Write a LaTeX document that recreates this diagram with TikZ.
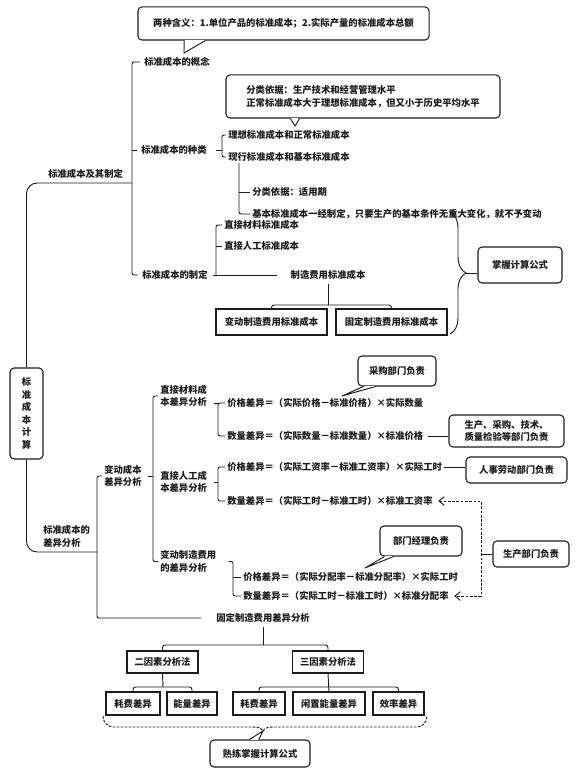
\documentclass[tikz,border=0pt]{standalone}
\usepackage{fontspec}
\setmainfont{Noto Sans CJK SC}
\usepackage{tikz}
\usetikzlibrary{arrows.meta,decorations.pathreplacing}
\definecolor{Ink}{HTML}{1C1C1C}
\tikzset{
  >={Straight Barb[length=4pt,width=6.5pt]},
  lab/.style={anchor=west,inner sep=0pt,align=left,text=Ink,font=\fontsize{7}{9.4}\selectfont\bfseries},
  box/.style={draw=Ink,line width=.8pt,inner sep=0pt,align=center,fill=white,text=Ink,font=\fontsize{7}{9.4}\selectfont\bfseries},
  rbox/.style={box,rounded corners=3pt},
  br/.style={draw=Ink,line width=.7pt,rounded corners=1.5pt},
  trunk/.style={br,rounded corners=8pt},
  lnk/.style={draw=Ink,line width=.7pt},
  duty/.style={lnk,dash pattern=on 2pt off 1.2pt,<->},
  tipw/.style={draw=Ink,line width=.7pt,fill=white},
  gap/.style={draw=white,line width=1.4pt},
  dbrace/.style={lnk,dash pattern=on 2pt off 1pt}
}

\begin{document}
\begin{tikzpicture}[x=0.75pt,y=-0.75pt]
  \fill[white] (0,0) rectangle (580,777);
  \useasboundingbox (0,0) rectangle (580,777);

  % standard cost and how it is set
  \node[lab] (jqzd) at (48,174) {标准成本及其制定};
  \node[lab] (gn) at (144,62) {标准成本的概念};
  \node[lab] (zl) at (141,150) {标准成本的种类};
  \node[lab] (zd) at (142,275) {标准成本的制定};
  \node[lab] (lx) at (228,135) {理想标准成本和正常标准成本};
  \node[lab] (xx) at (228,157) {现行标准成本和基本标准成本};
  \node[lab] (syq) at (252,192) {分类依据：适用期};
  \node[lab] (jb) at (252,214) {基本标准成本一经制定，只要生产的基本条件无重大变化，就不予变动};
  \node[lab] (cz) at (224,225) {直接材料标准成本};
  \node[lab] (rg) at (224,246) {直接人工标准成本};
  \node[lab,anchor=center] (zzfy) at (328,275) {制造费用标准成本};
  \node[box,minimum width=83.25pt,minimum height=19.5pt] (bdzz) at (271.5,322) {变动制造费用标准成本};
  \node[box,minimum width=83.25pt,minimum height=19.5pt] (gdzz) at (391.5,322) {固定制造费用标准成本};
  \node[rbox,minimum width=63pt,minimum height=27pt] (zwgs) at (520,265) {掌握计算公式};
  \node[rbox,minimum width=218.3pt,minimum height=24.8pt] (hy) at (283.5,23.5) {两种含义：1.单位产品的标准成本；2.实际产量的标准成本总额};
  \node[rbox,align=left,minimum width=205.5pt,minimum height=32.3pt] (fl) at (363,96.5) {分类依据：生产技术和经营管理水平\\正常标准成本大于理想标准成本，但又小于历史平均水平};

  \node[rbox,minimum width=24.75pt,minimum height=68.25pt] (jsbox) at (26.5,413.5) {标\\准\\成\\本\\计\\算};

  % variance analysis
  \node[lab] (cyfx) at (43,536.5) {标准成本的\\差异分析};
  \node[lab] (bdcb) at (104,476) {变动成本\\差异分析};
  \node[lab] (clcb) at (160,396) {直接材料成\\本差异分析};
  \node[lab] (rgcb) at (160,482) {直接人工成\\本差异分析};
  \node[lab] (zzfyfx) at (160,561.5) {变动制造费用\\的差异分析};
  \node[lab] (cljg) at (227,403) {价格差异＝（实际价格－标准价格）×实际数量};
  \node[lab] (clsl) at (227,436) {数量差异＝（实际数量－标准数量）×标准价格};
  \node[lab] (rgjg) at (227,467) {价格差异＝（实际工资率－标准工资率）×实际工时};
  \node[lab] (rgsl) at (227,501) {数量差异＝（实际工时－标准工时）×标准工资率};
  \node[lab] (zzjg) at (243,577) {价格差异＝（实际分配率－标准分配率）×实际工时};
  \node[lab] (zzsl) at (243,596) {数量差异＝（实际工时－标准工时）×标准分配率};
  \node[rbox,minimum width=58.5pt,minimum height=22.5pt] (cg) at (397,371) {采购部门负责};
  \node[rbox,minimum width=86.25pt,minimum height=24pt] (sc) at (506.5,431) {生产、采购、技术、\\质量检验等部门负责};
  \node[rbox,minimum width=75.75pt,minimum height=19.5pt] (rs) at (516.5,470) {人事劳动部门负责};
  \node[rbox,minimum width=61.5pt,minimum height=22.5pt] (jl) at (421,541) {部门经理负责};
  \node[rbox,minimum width=57pt,minimum height=19.5pt] (scbm) at (531,554) {生产部门负责};

  \node[lab,anchor=center] (gdfx) at (263,618) {固定制造费用差异分析};
  \node[box,minimum width=53.25pt,minimum height=16.5pt] (ey) at (162.5,662) {二因素分析法};
  \node[box,minimum width=53.25pt,minimum height=16.5pt] (sy) at (328,662) {三因素分析法};
  \node[box,minimum width=40.5pt,minimum height=17.25pt] (hf1) at (133,703.5) {耗费差异};
  \node[box,minimum width=37.5pt,minimum height=17.25pt] (nl) at (192,703.5) {能量差异};
  \node[box,minimum width=39pt,minimum height=17.25pt] (hf2) at (259,703.5) {耗费差异};
  \node[box,minimum width=54pt,minimum height=17.25pt] (xz) at (329,703.5) {闲置能量差异};
  \node[box,minimum width=38.25pt,minimum height=17.25pt] (xl) at (398.5,703.5) {效率差异};
  \node[rbox,minimum width=75pt,minimum height=20.25pt] (sl) at (260,753.5) {熟练掌握计算公式};

  % spines of the brackets
  \coordinate (k1) at (132,183);
  \coordinate (k2) at (97,552);
  \coordinate (s1) at (132,0);
  \coordinate (s2) at (222,0);
  \coordinate (s3) at (239,163);
  \coordinate (s4) at (216,0);
  \coordinate (s5) at (97,0);
  \coordinate (s6) at (153,0);
  \coordinate (s7) at (218,0);
  \coordinate (s8) at (233,0);
  \coordinate (s9) at (481,0);
  \coordinate (b1) at (328,305);
  \coordinate (b2) at (263,645);
  \coordinate (b3) at (163,687);
  \coordinate (b4) at (328,687);
  \coordinate (bt) at (466,273);
  \coordinate (t1) at (184,53);
  \coordinate (t2) at (295,126);
  \coordinate (t3) at (342,396);
  \coordinate (t4) at (365,568);
  \coordinate (t5) at (263,731);

  \draw[trunk] (jsbox.north) |- (k1);
  \draw[trunk] (jsbox.south) |- (k2);

  \draw[br] ([xshift=-3pt]gn.west) -- (gn.west -| s1) -- (zd.west -| s1) -- ([xshift=-3pt]zd.west);
  \draw[br] (zl.west -| s1) -- ([xshift=-3pt]zl.west);
  \draw[br] ([xshift=-1.5pt]lx.west) -- (lx.west -| s2) -- (xx.west -| s2) -- ([xshift=-1.5pt]xx.west);
  \draw[br] (zl.east -| s2) -- ++(-6,0);
  \draw[br] (s3) -- (jb.west -| s3) -- ([xshift=-1.5pt]jb.west);
  \draw[br] (syq.west -| s3) -- ([xshift=-1.5pt]syq.west);
  \draw[br] ([xshift=-1.5pt]cz.west) -- (cz.west -| s4) -- (zzfy.west -| s4);
  \draw[br] (rg.west -| s4) -- ([xshift=-1.5pt]rg.west);
  \draw[lnk] ([xshift=4pt]zd.east) -- ([xshift=-10pt]zzfy.west);
  \draw[lnk] ([yshift=-3pt]zzfy.south) -- (b1);
  \draw[br,rounded corners=2pt] (bdzz.north) |- (b1) -| (gdzz.north);
  \draw[lnk,decorate,decoration={brace,amplitude=12pt}] (450,212) -- (450,334);
  \draw[lnk] (bt) -- (bt -| zwgs.west);

  \draw[tipw] ([xshift=35pt]hy.south west) -- (t1) -- ([xshift=51pt]hy.south west);
  \draw[gap] ([xshift=36pt]hy.south west) -- ([xshift=50pt]hy.south west);
  \draw[tipw] ([xshift=48.75pt]fl.south west) -- (t2) -- ([xshift=55.5pt]fl.south west);
  \draw[gap] ([xshift=49.5pt]fl.south west) -- ([xshift=54.75pt]fl.south west);

  \draw[br] ([xshift=-1.5pt]bdcb.west) -- (bdcb.west -| s5) -- (gdfx.west -| s5) -- ([xshift=-11pt]gdfx.west);
  \draw[br] ([xshift=-1.5pt]clcb.west) -- (clcb.west -| s6) -- (zzfyfx.west -| s6) -- ([xshift=-1.5pt]zzfyfx.west);
  \draw[br] (bdcb.east -| s6) -- ++(-5,0);
  \draw[br] ([xshift=-1.5pt]cljg.west) -- (cljg.west -| s7) -- (clsl.west -| s7) -- ([xshift=-1.5pt]clsl.west);
  \draw[br] (cljg.west -| s7) -- ++(-4,0);
  \draw[br] ([xshift=-1.5pt]rgjg.west) -- (rgjg.west -| s7) -- (rgsl.west -| s7) -- ([xshift=-1.5pt]rgsl.west);
  \draw[br] (rgcb.east -| s7) -- ++(-4,0);
  \draw[br] ([xshift=9pt]zzfyfx.east) -- (zzfyfx.east -| s8) -- (zzsl.west -| s8) -- ([xshift=-1.5pt]zzsl.west);
  \draw[br] (zzjg.west -| s8) -- ([xshift=-1.5pt]zzjg.west);

  \draw[lnk] ([xshift=3pt]clsl.east) -- (clsl.east -| sc.west);
  \draw[lnk] ([xshift=1pt]rgjg.east) -- (rgjg.east -| rs.west);
  \draw[duty] ([xshift=4pt]rgsl.east) -- (rgsl.east -| s9) -- (zzsl.east -| s9) -- ([xshift=4pt]zzsl.east);
  \draw[lnk] (scbm.west -| s9) -- (scbm.west);

  \draw[tipw] ([xshift=4.5pt]cg.south west) -- (t3) -- ([xshift=13.5pt]cg.south west);
  \draw[gap] ([xshift=5.3pt]cg.south west) -- ([xshift=12.7pt]cg.south west);
  \draw[tipw] ([xshift=3.75pt]jl.south west) -- (t4) -- ([xshift=10.5pt]jl.south west);
  \draw[gap] ([xshift=4.5pt]jl.south west) -- ([xshift=9.75pt]jl.south west);

  % fixed overhead
  \draw[lnk] ([yshift=-3pt]gdfx.south) -- (b2);
  \draw[br,rounded corners=2pt] (ey.north) |- (b2) -| (sy.north);
  \draw[lnk] (ey.south) -- (b3);
  \draw[br,rounded corners=2pt] (hf1.north) |- (b3) -| (nl.north);
  \draw[lnk] (sy.south) -- (xz.north);
  \draw[br,rounded corners=2pt] (hf2.north) |- (b4) -| (xl.north);
  \draw[dbrace] (103,716) to[out=-90,in=180] (113,727) -- (252,727) to[out=0,in=120] (t5)
    to[out=60,in=180] (274,727) -- (417,727) to[out=0,in=-90] (427,716);
  \draw[tipw] ([xshift=30pt]sl.north west) -- (t5) -- ([xshift=37pt]sl.north west);
  \draw[gap] ([xshift=30.8pt]sl.north west) -- ([xshift=36.2pt]sl.north west);
\end{tikzpicture}
\end{document}
